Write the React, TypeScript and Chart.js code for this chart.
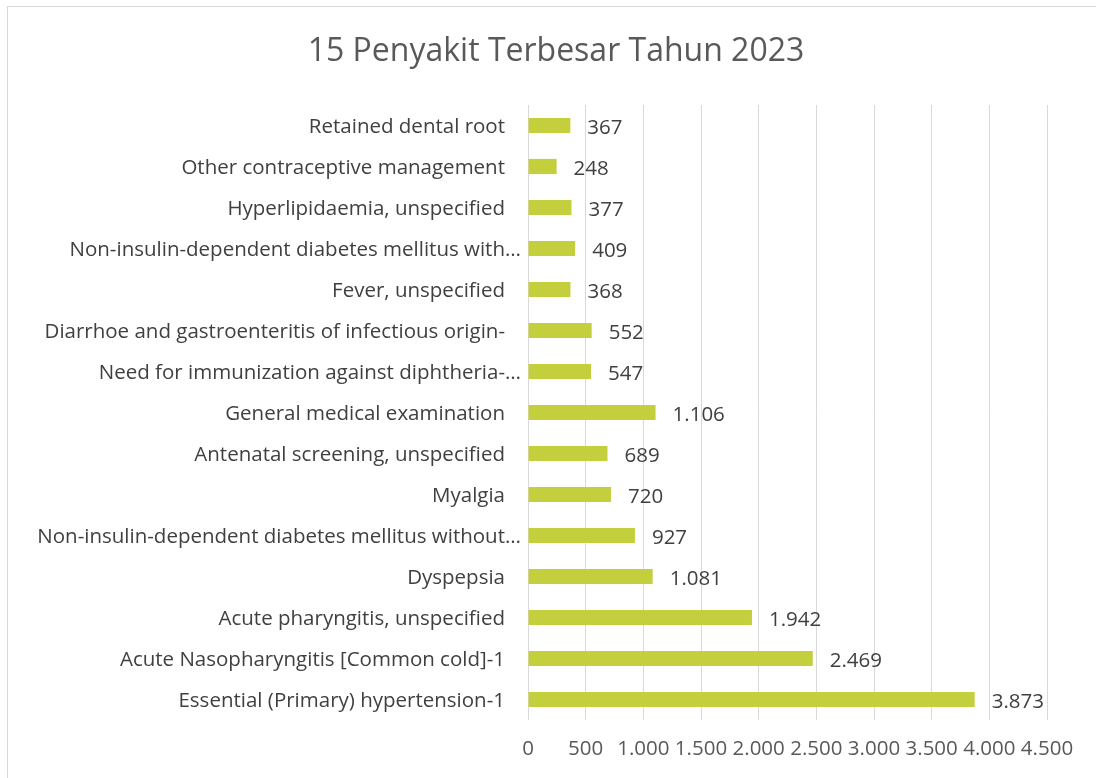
import React, { useEffect, useRef } from "react";
import { Chart, registerables } from "chart.js";

Chart.register(...registerables);

const title = "15 Penyakit Terbesar Tahun 2023";
const categories = [
  "Retained dental root",
  "Other contraceptive management",
  "Hyperlipidaemia, unspecified",
  "Non-insulin-dependent diabetes mellitus with…",
  "Fever, unspecified",
  "Diarrhoe and gastroenteritis of infectious origin-",
  "Need for immunization against diphtheria-…",
  "General medical examination",
  "Antenatal screening, unspecified",
  "Myalgia",
  "Non-insulin-dependent diabetes mellitus without…",
  "Dyspepsia",
  "Acute pharyngitis, unspecified",
  "Acute Nasopharyngitis [Common cold]-1",
  "Essential (Primary) hypertension-1",
];
const values = [367, 248, 377, 409, 368, 552, 547, 1106, 689, 720, 927, 1081, 1942, 2469, 3873];
const xMin = 0;
const xMax = 4500;
const xStep = 500;

const FONT = "'Open Sans', 'Liberation Sans', sans-serif";
const fmt = (v: number) => v.toLocaleString("de-DE");

export default function App() {
  const ref = useRef<HTMLCanvasElement | null>(null);
  useEffect(() => {
    if (!ref.current) return;
    const chart = new Chart(ref.current, {
      type: "bar",
      data: {
        labels: categories,
        datasets: [
          {
            data: values,
            backgroundColor: "#C3CF3C",
            borderWidth: 0,
            categoryPercentage: 1,
            barPercentage: 0.37,
          },
        ],
      },
      options: {
        indexAxis: "y",
        animation: false,
        responsive: false,
        layout: { padding: { top: 105, right: 49, bottom: 0, left: 0 } },
        plugins: {
          legend: { display: false },
          tooltip: { enabled: false },
          title: { display: false },
        },
        scales: {
          x: {
            min: xMin,
            max: xMax,
            ticks: {
              stepSize: xStep,
              padding: 17,
              color: "#595959",
              font: { family: FONT, size: 20.5 },
              callback: (v: any) => fmt(Number(v)),
              maxRotation: 0,
              autoSkip: false,
            },
            grid: { color: "#D9D9D9", lineWidth: 1, drawTicks: false },
            border: { display: false },
            afterFit: (s: any) => {
              s.height = 58;
            },
          },
          y: {
            ticks: {
              display: false,
              autoSkip: false,
            },
            grid: { display: false, drawTicks: false },
            border: { display: false },
            afterFit: (s: any) => {
              s.width = 528;
            },
          },
        },
      },
      plugins: [
        {
          id: "extras",
          afterDraw(c: any) {
            const ctx = c.ctx;
            ctx.save();
            // border
            ctx.strokeStyle = "#D9D9D9";
            ctx.lineWidth = 1;
            ctx.strokeRect(7.5, 6.5, 1100, 800);
            // title
            ctx.fillStyle = "#595959";
            ctx.font = `32px ${FONT}`;
            ctx.textAlign = "center";
            ctx.textBaseline = "middle";
            ctx.fillText(title, 556, 52);
            // category labels
            const yScale = c.scales.y;
            ctx.fillStyle = "#404040";
            ctx.font = `20.5px ${FONT}`;
            categories.forEach((lab, i) => {
              const y = yScale.getPixelForTick(i) + 2;
              const right = c.chartArea.left - 23;
              if (lab.endsWith("…")) {
                ctx.textAlign = "right";
                ctx.fillText(lab.slice(0, -1), right, y);
                ctx.textAlign = "left";
                ctx.fillText("…", right, y);
              } else {
                ctx.textAlign = "right";
                ctx.fillText(lab, right, y);
              }
            });
            // data labels
            const meta = c.getDatasetMeta(0);
            ctx.fillStyle = "#404040";
            ctx.textAlign = "left";
            meta.data.forEach((bar: any, i: number) => {
              ctx.fillText(fmt(values[i]), bar.x + 17, bar.y + 3);
            });
            ctx.restore();
          },
        },
      ],
    });
    return () => chart.destroy();
  }, []);
  return (
    <div style={{ position: "fixed", left: 0, top: 0, width: 1096, height: 778, background: "#fff" }}>
      <canvas ref={ref} width={1096} height={778} style={{ display: "block" }} />
    </div>
  );
}
